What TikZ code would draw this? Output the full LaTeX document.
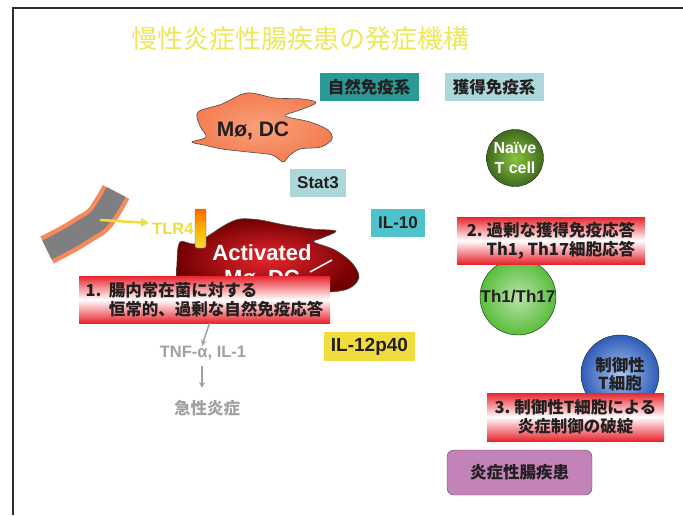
\documentclass[tikz,border=0pt]{standalone}
\usepackage{fontspec}
\setmainfont{Liberation Sans}
\newfontfamily\jp{Noto Sans CJK JP}
\usetikzlibrary{arrows.meta}

\definecolor{ink}{HTML}{231F20}
\definecolor{frameline}{HTML}{2E2E2E}
\definecolor{titleyel}{HTML}{EFE65A}
\definecolor{teal1}{HTML}{2B9994}
\definecolor{paleblue}{HTML}{ACD7DB}
\definecolor{cyan1}{HTML}{4FC3CB}
\definecolor{yel1}{HTML}{F0DC3C}
\definecolor{alarm}{HTML}{E8252E}
\definecolor{haze}{HTML}{A0A0A4}
\definecolor{peach}{HTML}{F58A5A}
\definecolor{slate}{HTML}{7F7F82}
\definecolor{plum}{HTML}{C283B8}
\definecolor{olivein}{HTML}{8CC43C}
\definecolor{oliveout}{HTML}{3E6A1E}
\definecolor{leafin}{HTML}{B8E2AC}
\definecolor{leafout}{HTML}{58BE3A}
\definecolor{skyin}{HTML}{A8C4EE}
\definecolor{skyout}{HTML}{2E5CB8}

\begin{document}
\begin{tikzpicture}[x=1pt, y=-1pt,
  every node/.style={inner sep=0pt, text=ink, font=\bfseries\fontsize{17}{20}\selectfont},
  jpn/.style={font=\jp\bfseries\fontsize{16.5}{19}\selectfont},
  tag/.style={minimum height=28pt},
  warn/.style={jpn, top color=alarm, bottom color=alarm, middle color=white},
  cell/.style={circle, draw=ink, thin},
  blob/.style={draw=ink!80, line width=0.6pt},
  gry/.style={draw=haze, line width=1.5pt, -{Stealth[length=6pt,width=6pt]}}]
\useasboundingbox (0,0) rectangle (683,515);
\draw[frameline, line width=2pt] (13,515) -- (13,8) -- (683,8);
\node[font=\jp\fontsize{26}{30}\selectfont, text=titleyel] (title) at (300,39) {慢性炎症性腸疾患の発症機構};

\node[tag, jpn, fill=teal1, minimum width=99pt] (innate) at (369,87) {自然免疫系};
\node[tag, jpn, fill=paleblue, minimum width=99pt] (acquired) at (494,87) {獲得免疫系};

% resting macrophage / dendritic cell
\shade[blob, inner color=peach!80!white, outer color=peach!90!red] plot[smooth cycle, tension=0.55] coordinates {
  (198,112) (222,104) (247,93) (275,98) (303,99) (316,103) (297,111) (285,116) (310,122)
  (328,130) (332,139) (321,147) (300,149) (289,156) (283,162) (272,155) (248,152)
  (222,149) (204,145) (192,142) (206,137) (200,126)};
\node[font=\bfseries\fontsize{21}{24}\selectfont] (mdc) at (253,131) {Mø, DC};
\node[tag, fill=paleblue, minimum width=56pt] (stat3) at (318,183) {Stat3};

% epithelium and signal to TLR4
\draw[line width=30pt, peach] plot[smooth, tension=0.8] coordinates {(47,250) (68,239) (86,228) (98,220) (108,206) (116,192)};
\draw[line width=21pt, slate] plot[smooth, tension=0.8] coordinates {(47,250) (68,239) (86,228) (98,220) (108,206) (116,192)};
\coordinate (lps) at (100,220);
\node[anchor=west, text=yel1, font=\bfseries\fontsize{16.5}{19}\selectfont] (tlrlbl) at (152,229) {TLR4};
\draw[yel1, line width=2.5pt, -{Triangle[length=8pt,width=8pt]}, shorten >=3pt] (lps) -- (tlrlbl.north west);

% activated cell
\shade[blob, inner color=alarm, outer color=red!45!black] plot[smooth cycle, tension=0.55] coordinates {
  (180,242) (194,244) (208,236) (225,225) (240,219) (260,220) (285,225) (312,229) (336,231)
  (322,238) (314,242) (335,250) (352,263) (359,277) (350,288) (330,292) (290,292)
  (240,296) (190,296) (178,285) (177,262)};
\node[text=white, align=center, font=\bfseries\fontsize{22}{25}\selectfont] (act) at (262,267) {Activated\\Mø, DC};
\draw[white, line width=1.5pt] (310,272) -- (332,260);
\node[draw=ink!70, rounded corners=2pt, minimum width=11pt, minimum height=39pt,
  top color=orange!80!red, bottom color=yel1, middle color=orange!60!yellow] (tlr4) at (200.5,228.5) {};
\node[tag, fill=cyan1, minimum width=54pt] (il10) at (398,223) {IL-10};

\node[warn, align=left, minimum width=251pt, minimum height=47pt] (box1) at (204.5,299.5)
  {1.\ \ 腸内常在菌に対する\\\phantom{1.\ \ }恒常的、過剰な自然免疫応答};
\node[text=haze, font=\bfseries\fontsize{16.5}{19}\selectfont] (tnf) at (203,353) {TNF-α, IL-1};
\node[jpn, text=haze] (acute) at (207,408) {急性炎症};
\draw[gry] ([xshift=5pt]box1.south) -- ([xshift=-1pt]tnf.north);
\draw[gry, shorten <=6pt, shorten >=12pt] ([xshift=-1pt]tnf.south) -- ([xshift=-1pt]tnf.south |- acute.north);
\node[tag, fill=yel1, minimum width=91pt, minimum height=29pt, font=\bfseries\fontsize{19}{22}\selectfont] (il12) at (369.5,346.5) {IL-12p40};

% T cells
\node[cell, minimum size=57pt, inner color=olivein, outer color=oliveout, text=white,
  align=center, font=\bfseries\fontsize{16}{20}\selectfont] (naive) at (515,158) {Naïve\\T cell};
\node[cell, minimum size=76pt, inner color=leafin, outer color=leafout] (th) at (518,297) {Th1/Th17};
\node[warn, align=left, minimum width=188pt, minimum height=47pt] (box2) at (551,240.5)
  {2.\ 過剰な獲得免疫応答\\\phantom{2.\ }Th1, Th17細胞応答};
\node[cell, jpn, minimum size=78pt, inner color=skyin, outer color=skyout,
  align=center, font=\jp\bfseries\fontsize{16.5}{18}\selectfont] (treg) at (620,374) {制御性\\T細胞};
\node[warn, align=center, minimum width=177pt, minimum height=48pt] (box3) at (575.5,417)
  {3.\ 制御性T細胞による\\炎症制御の破綻};

\node[jpn, fill=plum, draw=ink!60!plum, rounded corners=7pt, minimum width=145pt, minimum height=45pt] (ibd) at (519.5,472.5) {炎症性腸疾患};
\end{tikzpicture}
\end{document}
